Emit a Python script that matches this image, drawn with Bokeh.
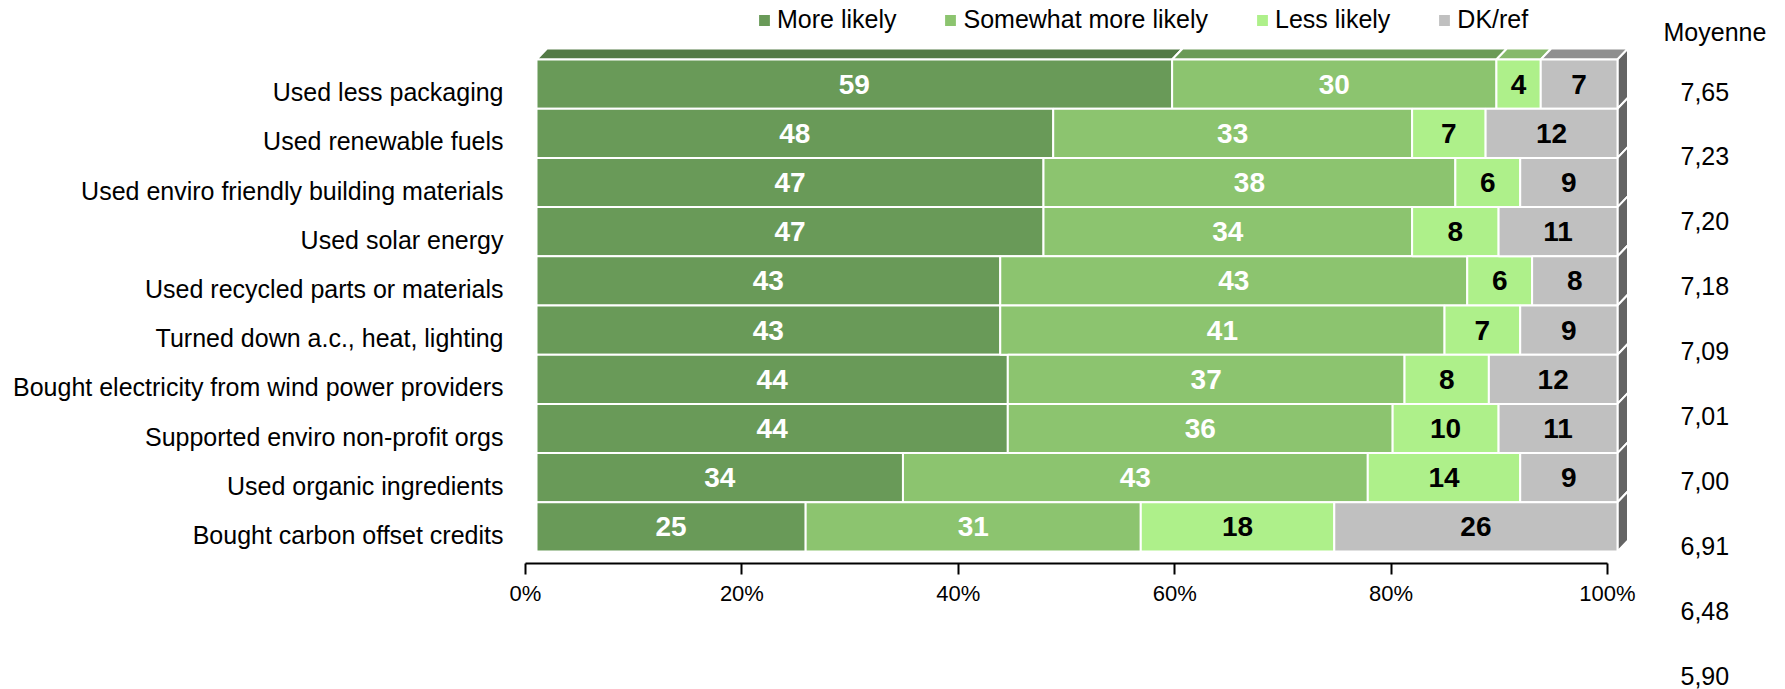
from bokeh.plotting import figure
from bokeh.models import (Range1d, LinearAxis, FixedTicker, Legend, LegendItem,
                          ColumnDataSource, Label, PrintfTickFormatter)
from bokeh.core.properties import value
from bokeh.embed import file_html
from bokeh.resources import INLINE

# ---------------- data ----------------
categories = [
    "Used less packaging",
    "Used renewable fuels",
    "Used enviro friendly building materials",
    "Used solar energy",
    "Used recycled parts or materials",
    "Turned down a.c., heat, lighting",
    "Bought electricity from wind power providers",
    "Supported enviro non-profit orgs",
    "Used organic ingredients",
    "Bought carbon offset credits",
]
series_names = ["More likely", "Somewhat more likely", "Less likely", "DK/ref"]
more_likely = [58.8, 47.8, 46.9, 46.9, 42.9, 42.9, 43.6, 43.6, 33.9, 24.9]
somewhat_more_likely = [30.0, 33.2, 38.1, 34.1, 43.2, 41.1, 36.7, 35.6, 43.0, 31.0]
less_likely = [4.1, 6.8, 6.0, 8.0, 6.0, 7.0, 7.8, 9.8, 14.1, 17.9]
dk_ref = [7.1, 12.2, 9.0, 11.0, 7.9, 9.0, 11.9, 11.0, 9.0, 26.2]
moyenne = [7.65, 7.23, 7.20, 7.18, 7.09, 7.01, 7.00, 6.91, 6.48, 5.90]
x_ticks = [0, 20, 40, 60, 80, 100]

# ---------------- styles / layout ----------------
W, H = 1785, 689
FONT = "Liberation Sans"
front_colors = ["#699a58", "#8cc46f", "#aef08a", "#c0c0c0"]
top_colors = ["#537a45", "#6b9b57", "#86b96b", "#8f8f8f"]
side_color = "#646464"
label_colors = ["white", "white", "black", "black"]

AX_X0, AX_X100 = 525.0, 1607.0      # pixel of 0% / 100% on axis
BAR_X0, BAR_X100 = 536.0, 1617.0    # pixel of 0% / 100% on bar front face
ROW_TOP, PITCH = 59.0, 49.2         # first bar top pixel, row pitch
AXIS_Y = 563.0
DEPTH_X, DEPTH_Y = 10.5, 11.0
MOY_Y0, MOY_PITCH = 91.0, 64.9

ax_ppu = (AX_X100 - AX_X0) / 100.0
bar_ppu = (BAR_X100 - BAR_X0) / 100.0
c0 = ROW_TOP + PITCH / 2.0

p = figure(width=W, height=H, output_backend="svg", toolbar_location=None,
           x_range=Range1d(-AX_X0 / ax_ppu, (W - AX_X0) / ax_ppu),
           y_range=Range1d((H - c0) / PITCH, -c0 / PITCH),
           x_axis_type=None, y_axis_type=None, min_border=0,
           outline_line_color=None, background_fill_color="white")
p.extra_x_ranges = {"bars": Range1d(-BAR_X0 / bar_ppu, (W - BAR_X0) / bar_ppu)}
p.extra_y_ranges = {"moy": Range1d((H - MOY_Y0) / MOY_PITCH, -MOY_Y0 / MOY_PITCH)}

n = len(categories)
rows = list(range(n))
series = [more_likely, somewhat_more_likely, less_likely, dk_ref]

# cumulative
lefts, rights = [], []
acc = [0.0] * n
for s in series:
    l = acc[:]
    r = [a + v for a, v in zip(acc, s)]
    lefts.append(l)
    rights.append(r)
    acc = r
totals = acc

dxu = DEPTH_X / bar_ppu
dyu = DEPTH_Y / PITCH

# 3D top face of first bar
top_xs, top_ys = [], []
for k in range(len(series)):
    l, r = lefts[k][0], rights[k][0]
    top_xs.append([l, r, r + dxu, l + dxu])
    top_ys.append([-0.5, -0.5, -0.5 - dyu, -0.5 - dyu])
p.patches(xs=top_xs, ys=top_ys, fill_color=top_colors, line_color="white",
          line_width=2, x_range_name="bars")

# 3D side faces
side_xs, side_ys = [], []
for i in rows:
    t = totals[i]
    side_xs.append([t, t + dxu, t + dxu, t])
    side_ys.append([i - 0.5, i - 0.5 - dyu, i + 0.5 - dyu, i + 0.5])
p.patches(xs=side_xs, ys=side_ys, fill_color=side_color, line_color="white",
          line_width=2, x_range_name="bars")

# bars
renderers = []
for k, s in enumerate(series):
    src = ColumnDataSource(dict(y=rows, left=lefts[k], right=rights[k]))
    r = p.hbar(y="y", left="left", right="right", height=1.0, source=src,
               fill_color=front_colors[k], line_color="white", line_width=2,
               x_range_name="bars")
    renderers.append(r)

# value labels
for k, s in enumerate(series):
    src = ColumnDataSource(dict(
        x=[(a + b) / 2 for a, b in zip(lefts[k], rights[k])],
        y=rows, t=[f"{v:.0f}" for v in s]))
    p.text(x="x", y="y", text="t", source=src, x_range_name="bars",
           text_font=value(FONT), text_font_style="bold", text_font_size="28px",
           text_color=label_colors[k], text_align="center", text_baseline="middle")

# category labels
cat_src = ColumnDataSource(dict(x=[(503 - AX_X0) / ax_ppu] * n, y=rows, t=categories))
p.text(x="x", y="y", text="t", source=cat_src, y_offset=8,
       text_font=value(FONT), text_font_size="25px", text_color="black",
       text_align="right", text_baseline="middle")

# Moyenne column
moy_src = ColumnDataSource(dict(x=[(1680 - AX_X0) / ax_ppu] * n, y=rows,
                                t=[f"{v:.2f}".replace(".", ",") for v in moyenne]))
p.text(x="x", y="y", text="t", source=moy_src, y_range_name="moy",
       text_font=value(FONT), text_font_size="25px", text_color="black",
       text_align="left", text_baseline="middle")
p.add_layout(Label(x=1663, y=H - 31, x_units="screen", y_units="screen",
                   text="Moyenne", text_font=FONT, text_font_size="25px",
                   text_color="black", text_baseline="middle", text_align="left"))

# x axis
ax = LinearAxis(ticker=FixedTicker(ticks=x_ticks),
                formatter=PrintfTickFormatter(format="%d%%"),
                fixed_location=(AXIS_Y - c0) / PITCH, bounds=(0, 100))
ax.axis_line_color = "black"
ax.axis_line_width = 2
ax.major_tick_line_color = "black"
ax.major_tick_line_width = 2
ax.major_tick_out = 11
ax.major_tick_in = 0
ax.minor_tick_line_color = None
ax.major_label_text_font = FONT
ax.major_label_text_font_size = "22px"
ax.major_label_text_color = "black"
ax.major_label_standoff = 6
p.add_layout(ax, "below")

# legend
legend = Legend(items=[LegendItem(label=nm, renderers=[r]) for nm, r in zip(series_names, renderers)],
                orientation="horizontal", location=(756, H - 34),
                glyph_width=16, glyph_height=16, label_standoff=5, spacing=46,
                padding=0, margin=0, border_line_color=None, background_fill_alpha=0,
                label_text_font=FONT, label_text_font_size="25px", label_text_color="black")
p.add_layout(legend, "center")

open("out.html", "w").write(file_html(p, INLINE))
